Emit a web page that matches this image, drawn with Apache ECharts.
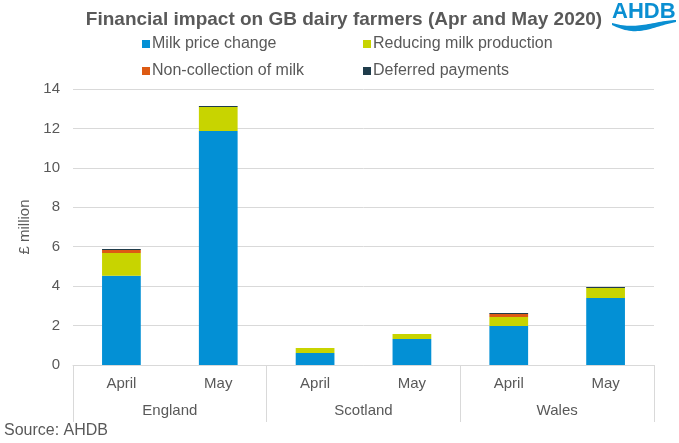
<!DOCTYPE html>
<html><head><meta charset="utf-8">
<script src="https://cdn.jsdelivr.net/npm/echarts@6/dist/echarts.min.js"></script>
<style>html,body{margin:0;padding:0;background:#fff}#c{width:679px;height:443px}</style>
</head><body><div id="c"></div>
<script>
const months = ['April','May','April','May','April','May'];
const countries = ['England','Scotland','Wales'];
const milkPrice = [4.53, 11.87, 0.61, 1.32, 1.98, 3.40];
const reducing = [1.15, 1.22, 0.25, 0.25, 0.45, 0.51];
const nonCollection = [0.15, 0, 0, 0, 0.16, 0];
const deferred = [0.05, 0.05, 0, 0, 0.05, 0.05];
const yTicks = {min:0, max:14, interval:2};

const txt = '#595959';
const font = 'Liberation Sans, Arial, sans-serif';
const chart = echarts.init(document.getElementById('c'));
function s(name, data, color){
  return {name, type:'bar', stack:'t', data, barWidth:'40%', itemStyle:{color}, xAxisIndex:0};
}
// logo wave (decoration, absolute canvas coordinates)
const wave = [];
const N = 30, X0 = 612, W = 64;
const topY = t => 23 + 5*Math.sin(Math.PI*t)*(1-t)*1.3 - 3*t;
const thick = t => 2 + 4.5*Math.sin(Math.PI*t)*(1-0.4*t);
for (let i = 0; i <= N; i++) { const t = i/N; wave.push([X0 + t*W, topY(t)]); }
for (let i = N; i >= 0; i--) { const t = i/N; wave.push([X0 + t*W, topY(t) + thick(t)]); }
const legendBase = {orient:'vertical', top:31, itemWidth:8, itemHeight:8, itemGap:11, icon:'rect', selectedMode:false,
  textStyle:{fontSize:16, color:txt, padding:[0,0,0,-3]}};
chart.setOption({
  animation:false,
  textStyle:{fontFamily:font},
  title:{text:'Financial impact on GB dairy farmers (Apr and May 2020)', left:339, top:5, textAlign:'center',
    textStyle:{fontFamily:font, fontSize:19, fontWeight:'bold', color:txt}},
  legend:[
    Object.assign({left:137, data:['Milk price change','Non-collection of milk']}, legendBase),
    Object.assign({left:358, data:['Reducing milk production','Deferred payments']}, legendBase)
  ],
  grid:{left:73, right:25, top:89, bottom:78},
  xAxis:[
    {type:'category', data:months, axisLine:{lineStyle:{color:'#d9d9d9'}}, axisTick:{show:false},
      axisLabel:{color:txt, fontSize:15, margin:11}},
    {type:'category', data:countries, position:'bottom', axisLine:{show:false},
      axisTick:{show:true, length:57, lineStyle:{color:'#d9d9d9'}},
      axisLabel:{color:txt, fontSize:15, margin:38}}
  ],
  yAxis:{type:'value', min:yTicks.min, max:yTicks.max, interval:yTicks.interval,
    name:'£ million', nameLocation:'middle', nameGap:40, nameTextStyle:{color:txt, fontSize:15},
    axisLabel:{color:txt, fontSize:15, margin:13},
    splitLine:{lineStyle:{color:'#d9d9d9'}}, axisLine:{show:false}},
  series:[
    s('Milk price change', milkPrice, '#0390d5'),
    s('Reducing milk production', reducing, '#c8d400'),
    s('Non-collection of milk', nonCollection, '#dd5a13'),
    s('Deferred payments', deferred, '#1f3c4b')
  ],
  graphic:[
    {type:'text', left:4, top:423, style:{text:'Source: AHDB', fill:txt, fontSize:16, fontFamily:font}},
    {type:'text', left:612, top:1, style:{text:'AHDB', fill:'#0a8fd2', fontSize:22, fontWeight:'bold', fontFamily:font}},
    {type:'polygon', shape:{points:wave}, style:{fill:'#0a8fd2'}}
  ]
});
</script></body></html>
